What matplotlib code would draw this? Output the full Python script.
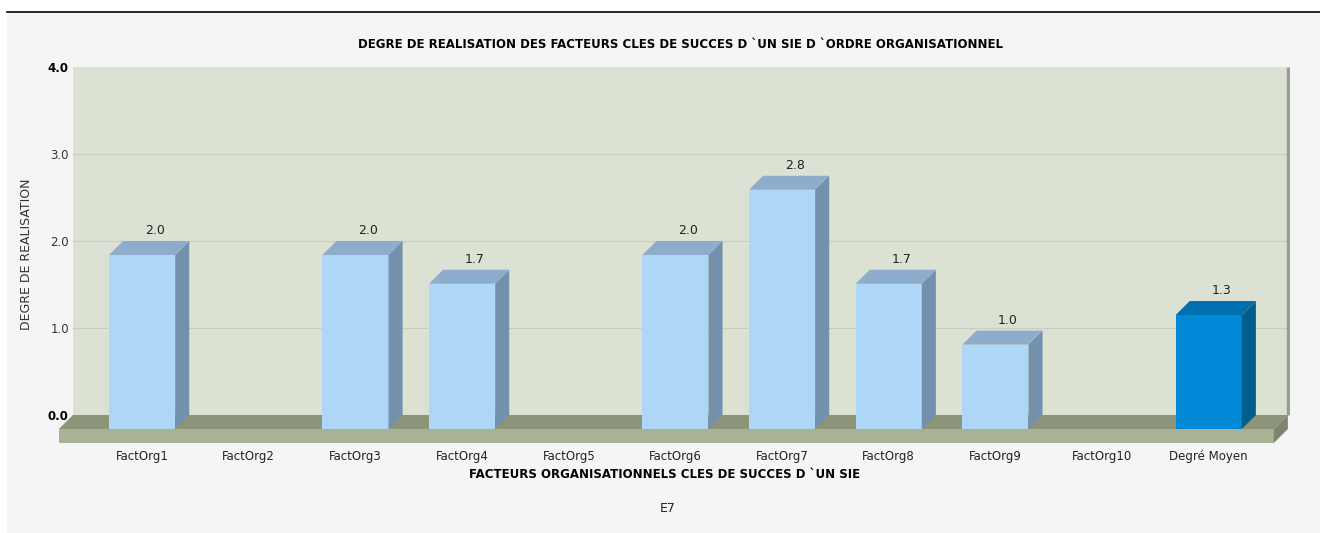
import matplotlib.pyplot as plt
from matplotlib.patches import Polygon, Rectangle
from matplotlib.lines import Line2D

# chart data
categories = ["FactOrg1", "FactOrg2", "FactOrg3", "FactOrg4", "FactOrg5", "FactOrg6",
              "FactOrg7", "FactOrg8", "FactOrg9", "FactOrg10", "Degré Moyen"]
values = [2.0, 0.0, 2.0, 1.67, 0.0, 2.0, 2.75, 1.67, 0.97, 0.0, 1.31]
y_ticks = [0.0, 1.0, 2.0, 3.0, 4.0]

title = "DEGRE DE REALISATION DES FACTEURS CLES DE SUCCES D `UN SIE D `ORDRE ORGANISATIONNEL"
x_title = "FACTEURS ORGANISATIONNELS CLES DE SUCCES D `UN SIE"
y_title = "DEGRE DE REALISATION"
series_name = "E7"

# 3d look
dx, dy = 0.132, 0.161          # depth offset in data units
bar_w = 0.62
x0, x1 = -0.78, 10.61          # floor front edges
light = ("#aed6f7", "#7391ac", "#8eaccb")   # front, side, top
dark = ("#0089d6", "#005d8c", "#0071b0")

W, H = 1320, 533
fig = plt.figure(figsize=(W / 100, H / 100), dpi=100, facecolor="#f5f5f5")

# white frame top / left and black rule
fig.add_artist(Rectangle((0, 1 - 11 / H), 1, 11 / H, transform=fig.transFigure,
                         facecolor="white", edgecolor="none"))
fig.add_artist(Rectangle((0, 0), 7 / W, 1, transform=fig.transFigure,
                         facecolor="white", edgecolor="none"))
fig.add_artist(Line2D([7 / W, 1], [1 - 11.5 / H, 1 - 11.5 / H], transform=fig.transFigure,
                      color="black", lw=1.2))

ax = fig.add_axes([73 / W, (H - 443) / H, (1290 - 73) / W, (443 - 67) / H])
ax.set_facecolor("none")
for s in ax.spines.values():
    s.set_visible(False)

ax.set_xlim(x0 + dx, x1 + dx + 0.02)
ax.set_ylim(-dy, 4 + dy)

# back wall
ax.add_patch(Rectangle((x0 + dx, dy), x1 - x0, 4, facecolor="#dce2d3", edgecolor="none", zorder=0))
for t in y_ticks[1:-1]:
    ax.plot([x0 + dx, x1 + dx], [t + dy, t + dy], color="#c7cfbc", lw=0.8, zorder=1)
ax.plot([x1 + dx, x1 + dx], [dy, 4 + dy], color="#9a9e92", lw=2.5, zorder=1,
        solid_capstyle="butt")

# floor
ax.add_patch(Polygon([(x0, 0), (x1, 0), (x1 + dx, dy), (x0 + dx, dy)],
                     facecolor="#8c9479", edgecolor="none", zorder=2, clip_on=False))
ax.add_patch(Rectangle((x0, -dy), x1 - x0, dy, facecolor="#a8b395", edgecolor="none",
                       zorder=2, clip_on=False))
ax.add_patch(Polygon([(x1, -dy), (x1 + dx, 0), (x1 + dx, dy), (x1, 0)],
                     facecolor="#7d8570", edgecolor="none", zorder=2, clip_on=False))

# bars
for i, v in enumerate(values):
    if v <= 0:
        continue
    front, side, top = dark if i == len(values) - 1 else light
    l, r = i - bar_w / 2, i + bar_w / 2
    ax.add_patch(Rectangle((l, 0), bar_w, v, facecolor=front, edgecolor="none", zorder=3))
    ax.add_patch(Polygon([(r, 0), (r + dx, dy), (r + dx, v + dy), (r, v)],
                         facecolor=side, edgecolor="none", zorder=3))
    ax.add_patch(Polygon([(l, v), (r, v), (r + dx, v + dy), (l + dx, v + dy)],
                         facecolor=top, edgecolor="none", zorder=3))
    ax.annotate(f"{v:.1f}", (i + dx * 0.9, v + dy), xytext=(0, 7.5), textcoords="offset points",
                ha="center", va="center", fontsize=9, color="#222222")

ax.set_xticks(range(len(categories)))
ax.set_xticklabels(categories, fontsize=8.5, color="#222222")
ax.set_yticks([t + dy for t in y_ticks])
ax.set_yticklabels([f"{t:.1f}" for t in y_ticks], fontsize=8.5, color="#333333")
for lab in (ax.get_yticklabels()[0], ax.get_yticklabels()[-1]):
    lab.set_fontweight("bold")
    lab.set_color("black")
ax.tick_params(axis="x", length=0, pad=5)
ax.tick_params(axis="y", length=0, pad=3)

fig.text(680 / W, 1 - 45 / H, title, ha="center", va="center", fontsize=8.5, fontweight="bold")
fig.text(665 / W, 1 - 474 / H, x_title, ha="center", va="center", fontsize=8.5, fontweight="bold")
fig.text(27 / W, 1 - 254 / H, y_title, ha="center", va="center", rotation=90, fontsize=9,
         color="#333333")
fig.text(668 / W, 1 - 508 / H, series_name, ha="center", va="center", fontsize=9, color="#222222")

fig.savefig("out.png", dpi=100, facecolor=fig.get_facecolor())
